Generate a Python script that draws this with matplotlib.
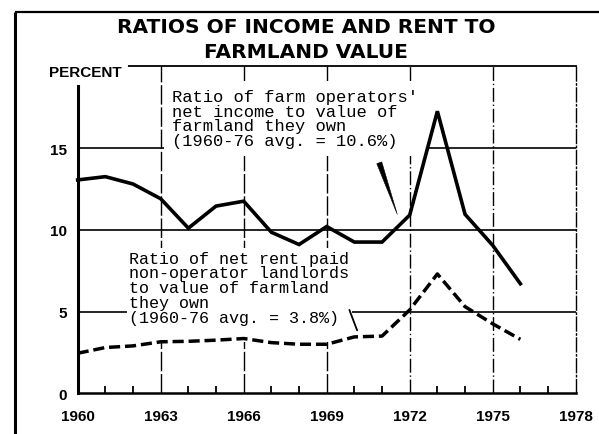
import matplotlib
matplotlib.use("Agg")
import matplotlib.pyplot as plt
from matplotlib.lines import Line2D
from matplotlib.ticker import MultipleLocator, FixedLocator

# ---- data ----
years = [1960, 1961, 1962, 1963, 1964, 1965, 1966, 1967, 1968,
         1969, 1970, 1971, 1972, 1973, 1974, 1975, 1976]
operator_income_ratio = [13.05, 13.25, 12.8, 11.9, 10.1, 11.45, 11.75, 9.85, 9.1,
                         10.2, 9.25, 9.25, 10.9, 17.25, 10.95, 9.05, 6.7]
landlord_rent_ratio = [2.45, 2.8, 2.9, 3.15, 3.18, 3.25, 3.35, 3.1, 3.0,
                       3.0, 3.45, 3.5, 5.1, 7.3, 5.3, 4.25, 3.3]

x_tick_years = [1960, 1963, 1966, 1969, 1972, 1975, 1978]
x_tick_labels = ["1960", "1963", "1966", "1969", "1972", "1975", "1978"]
y_ticks = [0, 5, 10, 15]
y_tick_labels = ["0", "5", "10", "15"]

title_line1 = "RATIOS OF INCOME AND RENT TO"
title_line2 = "FARMLAND VALUE"
y_unit_label = "PERCENT"

income_note = ("Ratio of farm operators'\n"
               "net income to value of\n"
               "farmland they own\n"
               "(1960-76 avg. = 10.6%)")
rent_note = ("Ratio of net rent paid\n"
             "non-operator landlords\n"
             "to value of farmland\n"
             "they own\n"
             "(1960-76 avg. = 3.8%)\n")

# annotation anchors (text position, pointer tail, pointer head)
income_note_pos = (1963.41, 18.62)
income_pointer = [(1970.9, 14.1), (1971.55, 10.95)]
rent_note_pos = (1961.86, 8.72)
rent_pointer = [(1969.82, 5.1), (1970.1, 3.85)]

# ---- figure ----
fig = plt.figure(figsize=(5.99, 4.35), dpi=100)
fig.patch.set_facecolor("white")
ax = fig.add_axes([77.7 / 599, 1 - 394.3 / 435, (575.7 - 77.7) / 599, (394.3 - 67.3) / 435])
ax.set_xlim(1960, 1978)
ax.set_ylim(0, 20)

# outer frame
fig.add_artist(Line2D([15 / 599, 15 / 599], [0, 1 - 13 / 435], transform=fig.transFigure,
                      color="black", lw=2.2, solid_capstyle="butt"))
fig.add_artist(Line2D([15 / 599, 1], [1 - 13 / 435, 1 - 13 / 435], transform=fig.transFigure,
                      color="black", lw=1.6, solid_capstyle="butt"))

# spines
for side in ["left", "bottom", "top", "right"]:
    ax.spines[side].set_color("black")
ax.spines["left"].set_linewidth(2.2)
ax.spines["bottom"].set_linewidth(1.8)
ax.spines["top"].set_linewidth(1.3)
ax.spines["right"].set_linewidth(1.0)
ax.spines["right"].set_linestyle((0, (10, 2, 1, 2)))

# grid
for yv in y_ticks[1:]:
    ax.axhline(yv, color="black", lw=1.2, zorder=1)
for xv in x_tick_years[1:-1]:
    style = (0, (14, 2)) if xv < 1972 else (0, (10, 2, 1, 2))
    ax.axvline(xv, color="black", lw=1.0, linestyle=style, zorder=1)

# ticks
ax.xaxis.set_major_locator(FixedLocator(x_tick_years))
ax.set_xticklabels(x_tick_labels)
ax.xaxis.set_minor_locator(MultipleLocator(1))
ax.yaxis.set_major_locator(FixedLocator(y_ticks))
ax.set_yticklabels(y_tick_labels)
ax.tick_params(axis="x", which="major", length=0, pad=11)
ax.tick_params(axis="x", which="minor", direction="in", length=5, width=1.3, top=False)
ax.tick_params(axis="y", which="major", length=0, pad=7.5)
for lab in ax.get_xticklabels() + ax.get_yticklabels():
    lab.set_fontfamily(["Liberation Sans", "DejaVu Sans"])
    lab.set_fontweight("bold")
    lab.set_fontsize(11)

# data lines
ax.plot(years, operator_income_ratio, color="black", lw=2.6, solid_joinstyle="miter",
        zorder=6, clip_on=False)
ax.plot(years, landlord_rent_ratio, color="black", lw=2.5, dashes=(3.2, 1.4),
        zorder=6, clip_on=False)

# annotations
mono = ["Liberation Mono", "DejaVu Sans Mono"]
ax.text(income_note_pos[0], income_note_pos[1], income_note, family=mono, fontsize=12.3,
        linespacing=0.98, ha="left", va="top", zorder=4,
        bbox=dict(boxstyle="square,pad=0.45", fc="white", ec="none"))
ax.text(rent_note_pos[0], rent_note_pos[1], rent_note, family=mono, fontsize=12.1,
        linespacing=0.98, ha="left", va="top", zorder=4,
        bbox=dict(boxstyle="square,pad=0.15", fc="white", ec="none"))
ax.annotate("", xy=income_pointer[1], xytext=income_pointer[0],
            arrowprops=dict(arrowstyle="wedge,tail_width=0.38,shrink_factor=0.5",
                            fc="black", ec="black", lw=0.4, shrinkA=0, shrinkB=0), zorder=5)
ax.annotate("", xy=rent_pointer[1], xytext=rent_pointer[0],
            arrowprops=dict(arrowstyle="-", color="black", lw=1.3, shrinkA=0, shrinkB=0), zorder=5)

# y unit label covering the corner
ax.text(1960 - 28.7 / 27.67, 20 - 5.3 / 16.35, y_unit_label, family=["Liberation Sans", "DejaVu Sans"],
        weight="bold", fontsize=11, ha="left", va="center", zorder=10,
        bbox=dict(boxstyle="square,pad=0.4", fc="white", ec="none"))

# title
fig.text(306 / 599, 1 - 27.5 / 435, title_line1, ha="center", va="center",
         family=["DejaVu Sans"], weight="bold", fontsize=14.5)
fig.text(306 / 599, 1 - 52.5 / 435, title_line2, ha="center", va="center",
         family=["DejaVu Sans"], weight="bold", fontsize=14.5)

fig.savefig("out.png", dpi=100, facecolor="white")
